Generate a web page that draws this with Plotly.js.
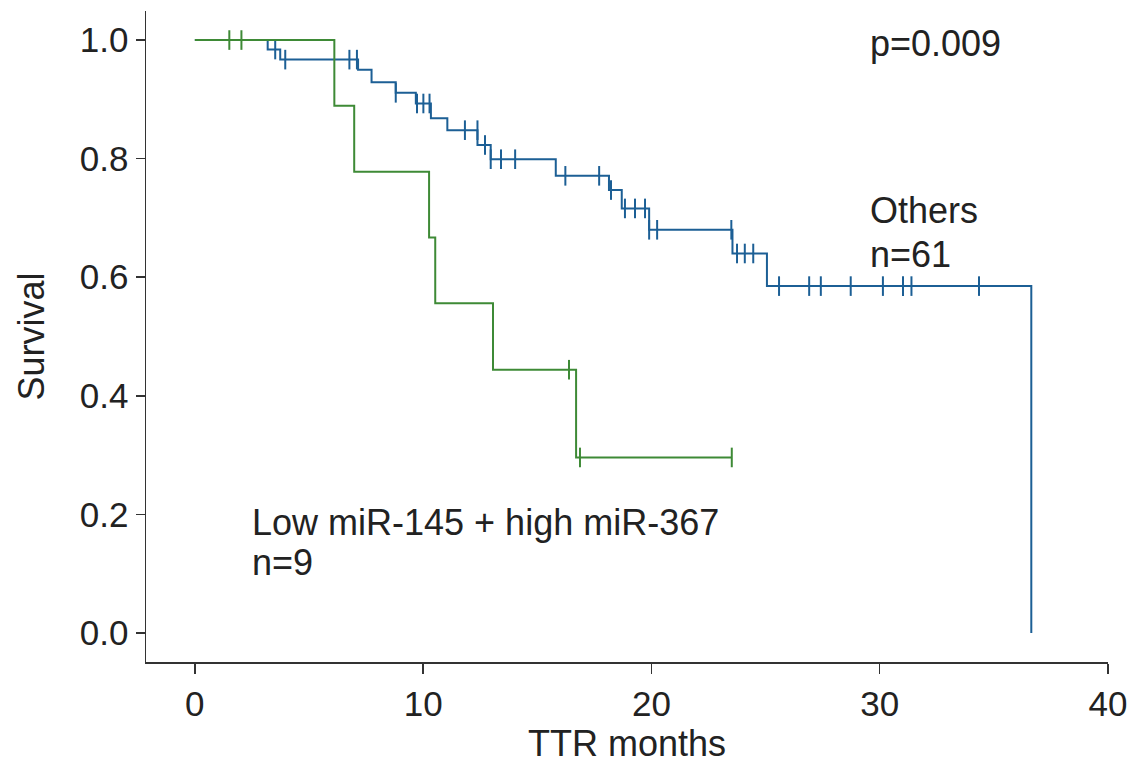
<!DOCTYPE html>
<html>
<head>
<meta charset="utf-8">
<script src="https://cdn.plot.ly/plotly-3.0.1.min.js"></script>
<style>html,body{margin:0;padding:0;background:#fff;}#chart{width:1134px;height:764px;}</style>
</head>
<body>
<div id="chart"></div>
<script>
// "Others" (n=61): step curve (time in months, survival after the step)
const othersTime = [0, 3.19, 3.74, 7.15, 7.74, 8.80, 9.68, 10.34, 11.06, 12.38, 12.96, 15.81, 18.14, 18.70, 19.90, 23.55, 25.06, 36.64];
const othersSurv = [1.0, 0.984, 0.967, 0.950, 0.929, 0.911, 0.893, 0.868, 0.848, 0.823, 0.799, 0.771, 0.747, 0.716, 0.680, 0.640, 0.585, 0.0];
// "Others" censored observations
const othersCensTime = [3.52, 3.96, 6.77, 7.10, 8.80, 9.73, 10.01, 10.28, 11.83, 12.38, 12.71, 12.96, 13.41, 14.03, 16.23, 17.71, 18.23, 18.84, 19.28, 19.72, 19.90, 20.25, 23.50, 23.75, 24.09, 24.46, 25.59, 26.91, 27.42, 28.73, 30.14, 31.02, 31.39, 34.35];
const othersCensSurv = [0.984, 0.967, 0.967, 0.967, 0.911, 0.893, 0.893, 0.893, 0.848, 0.848, 0.823, 0.799, 0.799, 0.799, 0.771, 0.771, 0.747, 0.716, 0.716, 0.716, 0.680, 0.680, 0.680, 0.640, 0.640, 0.640, 0.585, 0.585, 0.585, 0.585, 0.585, 0.585, 0.585, 0.585];

// "Low miR-145 + high miR-367" (n=9)
const lowTime = [0, 6.11, 6.98, 10.26, 10.53, 13.06, 16.70, 23.52];
const lowSurv = [1.0, 0.889, 0.778, 0.667, 0.556, 0.444, 0.296, 0.296];
const lowCensTime = [1.51, 2.04, 16.39, 16.87, 23.52];
const lowCensSurv = [1.0, 1.0, 0.444, 0.296, 0.296];

const xTicks = [0, 10, 20, 30, 40];
const yTicks = [0.0, 0.2, 0.4, 0.6, 0.8, 1.0];
const yTickText = ['0.0', '0.2', '0.4', '0.6', '0.8', '1.0'];

const pValueText = 'p=0.009';
const othersLabel = ['Others', 'n=61'];
const lowLabel = ['Low miR-145 + high miR-367', 'n=9'];

const blue = '#1c5f95';
const green = '#3e8a36';
const txt = '#222222';
const FONT = 'Liberation Sans, Arial, sans-serif';

const traces = [
  {x: othersTime, y: othersSurv, mode: 'lines', line: {shape: 'hv', color: blue, width: 2}, hoverinfo: 'skip'},
  {x: othersCensTime, y: othersCensSurv, mode: 'markers', marker: {symbol: 'line-ns', size: 14, color: blue, line: {color: blue, width: 2}}, hoverinfo: 'skip'},
  {x: lowTime, y: lowSurv, mode: 'lines', line: {shape: 'hv', color: green, width: 2}, hoverinfo: 'skip'},
  {x: lowCensTime, y: lowCensSurv, mode: 'markers', marker: {symbol: 'line-ns', size: 14, color: green, line: {color: green, width: 2}}, hoverinfo: 'skip'}
];

const annFont = {family: FONT, size: 36, color: txt};
const layout = {
  width: 1134, height: 764,
  margin: {l: 146, r: 26, t: 11, b: 102},
  paper_bgcolor: '#fff', plot_bgcolor: '#fff',
  showlegend: false,
  font: {family: FONT, color: txt},
  xaxis: {
    range: [-2.14, 40], tickvals: xTicks, ticktext: xTicks.map(String),
    showgrid: false, zeroline: false, showline: true, linecolor: '#333', linewidth: 1.5,
    ticks: 'outside', ticklen: 10, tickwidth: 1.5, tickcolor: '#333',
    tickfont: {family: FONT, size: 35, color: txt},
    title: {text: 'TTR months', font: {family: FONT, size: 36, color: txt}, standoff: 13}
  },
  yaxis: {
    range: [-0.049, 1.049], tickvals: yTicks, ticktext: yTickText,
    showgrid: false, zeroline: false, showline: true, linecolor: '#333', linewidth: 1.5,
    ticks: 'outside', ticklen: 9, tickwidth: 1.5, tickcolor: '#333',
    tickfont: {family: FONT, size: 35, color: txt},
    title: {text: 'Survival', font: {family: FONT, size: 36, color: txt}, standoff: 24}
  },
  annotations: [
    {x: 29.48, y: 0.995, xref: 'x', yref: 'y', text: pValueText, showarrow: false, xanchor: 'left', yanchor: 'middle', font: annFont},
    {x: 29.48, y: 0.712, xref: 'x', yref: 'y', text: othersLabel[0], showarrow: false, xanchor: 'left', yanchor: 'middle', font: annFont},
    {x: 29.48, y: 0.639, xref: 'x', yref: 'y', text: othersLabel[1], showarrow: false, xanchor: 'left', yanchor: 'middle', font: annFont},
    {x: 2.43, y: 0.1855, xref: 'x', yref: 'y', text: lowLabel[0], showarrow: false, xanchor: 'left', yanchor: 'middle', font: annFont},
    {x: 2.43, y: 0.118, xref: 'x', yref: 'y', text: lowLabel[1], showarrow: false, xanchor: 'left', yanchor: 'middle', font: annFont}
  ]
};

Plotly.newPlot('chart', traces, layout, {staticPlot: true, displayModeBar: false});
</script>
</body>
</html>
